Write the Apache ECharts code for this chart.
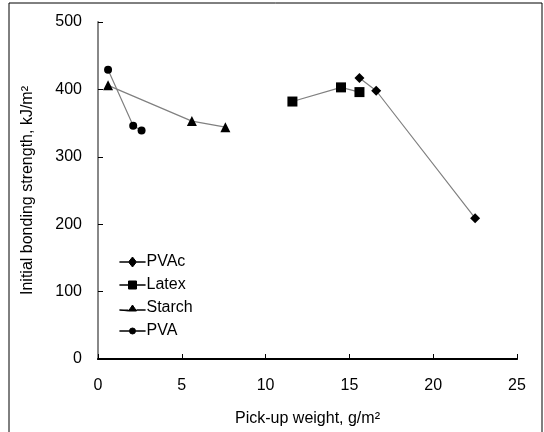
<!DOCTYPE html>
<html><head><meta charset="utf-8">
<script src="https://cdn.jsdelivr.net/npm/echarts@6/dist/echarts.min.js"></script>
<style>html,body{margin:0;padding:0;background:#fff}#c{width:544px;height:432px}</style>
</head><body><div id="c"></div>
<script>
const seriesNames = ['PVAc', 'Latex', 'Starch', 'PVA'];
const pvacData = [[15.6, 417], [16.6, 398], [22.5, 209]];
const latexData = [[11.6, 382], [14.5, 403], [15.6, 396]];
const starchData = [[0.6, 406], [5.6, 353], [7.6, 344]];
const pvaData = [[0.6, 429], [2.1, 346], [2.6, 339]];
const xTicks = [0, 5, 10, 15, 20, 25];
const yTicks = [0, 100, 200, 300, 400, 500];
const xTitle = 'Pick-up weight, g/m\u00B2';
const yTitle = 'Initial bonding strength, kJ/m\u00B2';

const font = 'Liberation Sans, Arial, sans-serif';
const chart = echarts.init(document.getElementById('c'));
const symbols = ['diamond', 'rect', 'triangle', 'circle'];
const sizes = [10, 10, 10, 8];
const datas = [pvacData, latexData, starchData, pvaData];
const icons = [
  'path://M0,8 L9,8 L13,3 L17,8 L26,8 L17,8 L13,13 L9,8 Z',
  'path://M0,8 L9,8 L9,4 L17,4 L17,8 L26,8 L17,8 L17,12 L9,12 L9,8 Z',
  'path://M0,8 L9,8 L9,9 L13,3 L17,9 L17,8 L26,8 L17,8 L17,9 L9,9 Z',
  'path://M0,8 L10,8 A3,3 0 1 1 16,8 L26,8 L16,8 A3,3 0 1 1 10,8 Z'
];
chart.setOption({
  animation: false,
  backgroundColor: '#fff',
  grid: {left: 98, right: 27, top: 22, bottom: 71},
  graphic: [{type: 'rect', shape: {x: 9, y: 3, width: 533, height: 600}, style: {fill: 'none', stroke: '#000', lineWidth: 1}, z: -1}],
  legend: {
    orient: 'vertical', left: 114, top: 249, itemGap: 7, itemWidth: 26, itemHeight: 16,
    textStyle: {fontFamily: font, fontSize: 16, color: '#000', padding: [0, 0, 0, -4]},
    data: seriesNames.map((n, i) => ({name: n, icon: icons[i]})),
    itemStyle: {color: '#000', borderColor: '#000', borderWidth: 1},
    selectedMode: false
  },
  xAxis: [{
    type: 'value', min: xTicks[0], max: xTicks[xTicks.length - 1], interval: 5,
    name: xTitle, nameLocation: 'middle', nameGap: 52,
    nameTextStyle: {fontFamily: font, fontSize: 16, color: '#000'},
    axisLine: {show: true, onZero: false, lineStyle: {color: '#000', width: 2}},
    axisTick: {show: true, inside: true, length: 5, lineStyle: {color: '#000'}},
    axisLabel: {fontFamily: font, fontSize: 16, color: '#000', margin: 19},
    splitLine: {show: false}
  }, {
    type: 'value', position: 'top', min: 0, max: 25,
    axisLine: {show: true, lineStyle: {color: '#000', width: 1}},
    axisTick: {show: false}, axisLabel: {show: false}, splitLine: {show: false}
  }],
  yAxis: [{
    type: 'value', min: yTicks[0], max: yTicks[yTicks.length - 1], interval: 100,
    name: yTitle, nameLocation: 'middle', nameGap: 62, nameRotate: 90,
    nameTextStyle: {fontFamily: font, fontSize: 16, color: '#000'},
    axisLine: {show: true, onZero: false, lineStyle: {color: '#000', width: 1}},
    axisTick: {show: true, inside: true, length: 5, lineStyle: {color: '#000'}},
    axisLabel: {fontFamily: font, fontSize: 16, color: '#000', margin: 16},
    splitLine: {show: false}
  }, {
    type: 'value', position: 'right', min: 0, max: 500,
    axisLine: {show: true, lineStyle: {color: '#888', width: 2}},
    axisTick: {show: false}, axisLabel: {show: false}, splitLine: {show: false}
  }],
  series: seriesNames.map((n, i) => ({
    name: n, type: 'line', data: datas[i],
    symbol: symbols[i], symbolSize: sizes[i],
    itemStyle: {color: '#000'},
    lineStyle: {color: '#808080', width: 1.2}
  }))
});
</script></body></html>
